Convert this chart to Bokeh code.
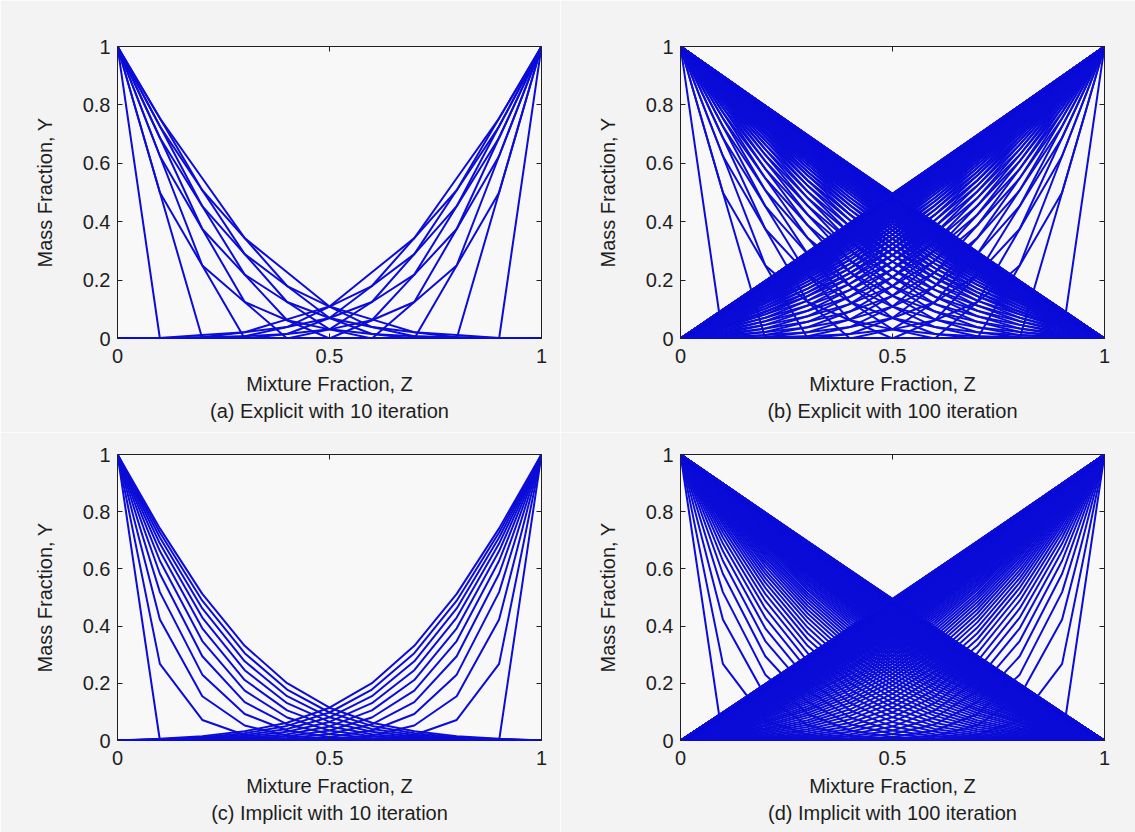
from bokeh.plotting import figure
from bokeh.layouts import gridplot
from bokeh.models import FixedTicker, LinearAxis, Title, Range1d
from bokeh.embed import file_html
from bokeh.resources import INLINE

# ---------------- data ----------------
# grid of the mixture fraction (11 nodes)
z_grid = [0.0, 0.1, 0.2, 0.3, 0.4, 0.5, 0.6, 0.7, 0.8, 0.9, 1.0]
# boundary values of the fuel-side profile (Z=0 and Z=1)
y_at_z0 = 1.0
y_at_z1 = 0.0

# interior values (Z = 0.1 ... 0.9) of the fuel-side profile, one row per iteration
# (the oxidizer-side profile is the same curve seen from Z = 1)
explicit_profiles = [
    [0, 0, 0, 0, 0, 0, 0, 0, 0],
    [0.5, 0, 0, 0, 0, 0, 0, 0, 0],
    [0.5, 0.25, 0, 0, 0, 0, 0, 0, 0],
    [0.625, 0.25, 0.125, 0, 0, 0, 0, 0, 0],
    [0.625, 0.375, 0.125, 0.0625, 0, 0, 0, 0, 0],
    [0.6875, 0.375, 0.2188, 0.0625, 0.0313, 0, 0, 0, 0],
    [0.6875, 0.4531, 0.2188, 0.125, 0.0313, 0.0156, 0, 0, 0],
    [0.7266, 0.4531, 0.2891, 0.125, 0.0703, 0.0156, 0.0078, 0, 0],
    [0.7266, 0.5078, 0.2891, 0.1797, 0.0703, 0.0391, 0.0078, 0.0039, 0],
    [0.7539, 0.5078, 0.3438, 0.1797, 0.1094, 0.0391, 0.0215, 0.0039, 0.002],
    [0.7539, 0.5488, 0.3438, 0.2266, 0.1094, 0.0654, 0.0215, 0.0117, 0.002],
    [0.7744, 0.5488, 0.3877, 0.2266, 0.146, 0.0654, 0.0386, 0.0117, 0.0059],
    [0.7744, 0.5811, 0.3877, 0.2668, 0.146, 0.0923, 0.0386, 0.0222, 0.0059],
    [0.7905, 0.5811, 0.4239, 0.2668, 0.1796, 0.0923, 0.0572, 0.0222, 0.0111],
    [0.7905, 0.6072, 0.4239, 0.3017, 0.1796, 0.1184, 0.0572, 0.0342, 0.0111],
    [0.8036, 0.6072, 0.4545, 0.3017, 0.2101, 0.1184, 0.0763, 0.0342, 0.0171],
    [0.8036, 0.6291, 0.4545, 0.3323, 0.2101, 0.1432, 0.0763, 0.0467, 0.0171],
    [0.8146, 0.6291, 0.4807, 0.3323, 0.2378, 0.1432, 0.095, 0.0467, 0.0234],
    [0.8146, 0.6477, 0.4807, 0.3593, 0.2378, 0.1664, 0.095, 0.0592, 0.0234],
    [0.8239, 0.6477, 0.5035, 0.3593, 0.2629, 0.1664, 0.1128, 0.0592, 0.0296],
    [0.8239, 0.6637, 0.5035, 0.3832, 0.2629, 0.1879, 0.1128, 0.0712, 0.0296],
    [0.8319, 0.6637, 0.5235, 0.3832, 0.2856, 0.1879, 0.1296, 0.0712, 0.0356],
    [0.8319, 0.6777, 0.5235, 0.4046, 0.2856, 0.2076, 0.1296, 0.0826, 0.0356],
    [0.8389, 0.6777, 0.5412, 0.4046, 0.3061, 0.2076, 0.1451, 0.0826, 0.0413],
    [0.8389, 0.6901, 0.5412, 0.4237, 0.3061, 0.2256, 0.1451, 0.0932, 0.0413],
    [0.839, 0.691, 0.541, 0.424, 0.306, 0.224, 0.145, 0.091, 0.041],
    [0.846, 0.691, 0.558, 0.424, 0.324, 0.224, 0.158, 0.091, 0.046],
    [0.846, 0.702, 0.558, 0.441, 0.324, 0.241, 0.158, 0.102, 0.046],
    [0.851, 0.702, 0.571, 0.441, 0.341, 0.241, 0.171, 0.102, 0.051],
    [0.851, 0.711, 0.571, 0.456, 0.341, 0.256, 0.171, 0.111, 0.051],
    [0.856, 0.711, 0.584, 0.456, 0.356, 0.256, 0.184, 0.111, 0.056],
    [0.856, 0.720, 0.584, 0.470, 0.356, 0.270, 0.184, 0.120, 0.056],
    [0.860, 0.720, 0.595, 0.470, 0.370, 0.270, 0.195, 0.120, 0.060],
    [0.860, 0.727, 0.595, 0.482, 0.370, 0.282, 0.195, 0.127, 0.060],
    [0.864, 0.727, 0.605, 0.482, 0.382, 0.282, 0.205, 0.127, 0.064],
    [0.864, 0.734, 0.605, 0.494, 0.382, 0.294, 0.205, 0.134, 0.064],
    [0.867, 0.734, 0.614, 0.494, 0.394, 0.294, 0.214, 0.134, 0.067],
    [0.867, 0.741, 0.614, 0.504, 0.394, 0.304, 0.214, 0.141, 0.067],
    [0.870, 0.741, 0.622, 0.504, 0.404, 0.304, 0.222, 0.141, 0.070],
    [0.870, 0.746, 0.622, 0.513, 0.404, 0.313, 0.222, 0.146, 0.070],
    [0.873, 0.746, 0.630, 0.513, 0.413, 0.313, 0.230, 0.146, 0.073],
    [0.873, 0.751, 0.630, 0.521, 0.413, 0.321, 0.230, 0.151, 0.073],
    [0.876, 0.751, 0.636, 0.521, 0.421, 0.321, 0.236, 0.151, 0.076],
    [0.876, 0.756, 0.636, 0.529, 0.421, 0.329, 0.236, 0.156, 0.076],
    [0.878, 0.756, 0.642, 0.529, 0.429, 0.329, 0.242, 0.156, 0.078],
    [0.878, 0.760, 0.642, 0.536, 0.429, 0.336, 0.242, 0.160, 0.078],
    [0.880, 0.760, 0.648, 0.536, 0.436, 0.336, 0.248, 0.160, 0.080],
    [0.880, 0.764, 0.648, 0.542, 0.436, 0.342, 0.248, 0.164, 0.080],
    [0.882, 0.764, 0.653, 0.542, 0.442, 0.342, 0.253, 0.164, 0.082],
    [0.882, 0.767, 0.653, 0.547, 0.442, 0.347, 0.253, 0.167, 0.082],
    [0.884, 0.767, 0.657, 0.547, 0.447, 0.347, 0.257, 0.167, 0.084],
    [0.884, 0.771, 0.657, 0.552, 0.447, 0.352, 0.257, 0.171, 0.084],
    [0.885, 0.771, 0.661, 0.552, 0.452, 0.352, 0.261, 0.171, 0.085],
    [0.885, 0.773, 0.661, 0.557, 0.452, 0.357, 0.261, 0.173, 0.085],
    [0.887, 0.773, 0.665, 0.557, 0.457, 0.357, 0.265, 0.173, 0.087],
    [0.887, 0.776, 0.665, 0.561, 0.457, 0.361, 0.265, 0.176, 0.087],
    [0.888, 0.776, 0.668, 0.561, 0.461, 0.361, 0.268, 0.176, 0.088],
    [0.888, 0.778, 0.668, 0.565, 0.461, 0.365, 0.268, 0.178, 0.088],
    [0.889, 0.778, 0.671, 0.565, 0.465, 0.365, 0.271, 0.178, 0.089],
    [0.889, 0.780, 0.671, 0.568, 0.465, 0.368, 0.271, 0.180, 0.089],
    [0.890, 0.780, 0.674, 0.568, 0.468, 0.368, 0.274, 0.180, 0.090],
    [0.890, 0.782, 0.674, 0.571, 0.468, 0.371, 0.274, 0.182, 0.090],
    [0.891, 0.782, 0.677, 0.571, 0.471, 0.371, 0.277, 0.182, 0.091],
    [0.891, 0.784, 0.677, 0.574, 0.471, 0.374, 0.277, 0.184, 0.091],
    [0.892, 0.784, 0.679, 0.574, 0.474, 0.374, 0.279, 0.184, 0.092],
    [0.892, 0.785, 0.679, 0.576, 0.474, 0.376, 0.279, 0.185, 0.092],
    [0.893, 0.785, 0.681, 0.576, 0.476, 0.376, 0.281, 0.185, 0.093],
    [0.893, 0.787, 0.681, 0.579, 0.476, 0.379, 0.281, 0.187, 0.093],
    [0.893, 0.787, 0.683, 0.579, 0.479, 0.379, 0.283, 0.187, 0.093],
    [0.893, 0.788, 0.683, 0.581, 0.479, 0.381, 0.283, 0.188, 0.093],
    [0.894, 0.788, 0.684, 0.581, 0.481, 0.381, 0.284, 0.188, 0.094],
    [0.894, 0.789, 0.684, 0.582, 0.481, 0.382, 0.284, 0.189, 0.094],
    [0.895, 0.789, 0.686, 0.582, 0.482, 0.382, 0.286, 0.189, 0.095],
    [0.895, 0.790, 0.686, 0.584, 0.482, 0.384, 0.286, 0.190, 0.095],
    [0.895, 0.790, 0.687, 0.584, 0.484, 0.384, 0.287, 0.190, 0.095],
    [0.895, 0.791, 0.687, 0.586, 0.484, 0.386, 0.287, 0.191, 0.095],
    [0.896, 0.791, 0.688, 0.586, 0.486, 0.386, 0.288, 0.191, 0.096],
    [0.896, 0.792, 0.688, 0.587, 0.486, 0.387, 0.288, 0.192, 0.096],
    [0.896, 0.792, 0.690, 0.587, 0.487, 0.387, 0.290, 0.192, 0.096],
    [0.896, 0.793, 0.690, 0.588, 0.487, 0.388, 0.290, 0.193, 0.096],
    [0.896, 0.793, 0.691, 0.588, 0.488, 0.388, 0.291, 0.193, 0.096],
    [0.896, 0.793, 0.691, 0.589, 0.488, 0.389, 0.291, 0.193, 0.096],
    [0.897, 0.793, 0.691, 0.589, 0.489, 0.389, 0.291, 0.193, 0.097],
    [0.897, 0.794, 0.691, 0.590, 0.489, 0.390, 0.291, 0.194, 0.097],
    [0.897, 0.794, 0.692, 0.590, 0.490, 0.390, 0.292, 0.194, 0.097],
    [0.897, 0.795, 0.692, 0.591, 0.490, 0.391, 0.292, 0.195, 0.097],
    [0.897, 0.795, 0.693, 0.591, 0.491, 0.391, 0.293, 0.195, 0.097],
    [0.897, 0.795, 0.693, 0.592, 0.491, 0.392, 0.293, 0.195, 0.097],
    [0.898, 0.795, 0.694, 0.592, 0.492, 0.392, 0.294, 0.195, 0.098],
    [0.898, 0.796, 0.694, 0.593, 0.492, 0.393, 0.294, 0.196, 0.098],
    [0.898, 0.796, 0.694, 0.593, 0.493, 0.393, 0.294, 0.196, 0.098],
    [0.898, 0.796, 0.694, 0.594, 0.493, 0.394, 0.294, 0.196, 0.098],
    [0.898, 0.796, 0.695, 0.594, 0.494, 0.394, 0.295, 0.196, 0.098],
    [0.898, 0.796, 0.695, 0.594, 0.494, 0.394, 0.295, 0.196, 0.098],
    [0.898, 0.796, 0.695, 0.594, 0.494, 0.394, 0.295, 0.196, 0.098],
    [0.898, 0.797, 0.695, 0.595, 0.494, 0.395, 0.295, 0.197, 0.098],
    [0.898, 0.797, 0.696, 0.595, 0.495, 0.395, 0.296, 0.197, 0.098],
    [0.898, 0.797, 0.696, 0.595, 0.495, 0.395, 0.296, 0.197, 0.098],
    [0.899, 0.797, 0.696, 0.595, 0.495, 0.395, 0.296, 0.197, 0.099],
    [0.899, 0.797, 0.696, 0.596, 0.495, 0.396, 0.296, 0.197, 0.099],
    [0.899, 0.797, 0.697, 0.596, 0.496, 0.396, 0.297, 0.197, 0.099],
]

implicit_profiles = [
    [0, 0, 0, 0, 0, 0, 0, 0, 0],
    [0.2679, 0.0718, 0.0192, 0.0052, 0.0014, 0.0004, 0.0001, 0, 0],
    [0.4227, 0.1547, 0.0526, 0.0171, 0.0054, 0.0017, 0.0005, 0.0001, 0],
    [0.5189, 0.2302, 0.0925, 0.0348, 0.0125, 0.0043, 0.0014, 0.0005, 0.0001],
    [0.5830, 0.2944, 0.1340, 0.0565, 0.0225, 0.0086, 0.0031, 0.0011, 0.0003],
    [0.6285, 0.3478, 0.1741, 0.0805, 0.0350, 0.0145, 0.0057, 0.0022, 0.0007],
    [0.6623, 0.3924, 0.2115, 0.1055, 0.0493, 0.0219, 0.0093, 0.0037, 0.0013],
    [0.6886, 0.4298, 0.2458, 0.1304, 0.0649, 0.0306, 0.0137, 0.0058, 0.0021],
    [0.7097, 0.4616, 0.2770, 0.1548, 0.0812, 0.0404, 0.0191, 0.0085, 0.0032],
    [0.7271, 0.4889, 0.3053, 0.1782, 0.0979, 0.0510, 0.0252, 0.0117, 0.0045],
    [0.7417, 0.5126, 0.3309, 0.2005, 0.1146, 0.0621, 0.0320, 0.0153, 0.0061],
    [0.755, 0.534, 0.354, 0.221, 0.131, 0.074, 0.039, 0.019, 0.008],
    [0.765, 0.552, 0.375, 0.241, 0.147, 0.086, 0.047, 0.024, 0.010],
    [0.775, 0.568, 0.395, 0.260, 0.163, 0.097, 0.055, 0.029, 0.012],
    [0.783, 0.583, 0.413, 0.278, 0.178, 0.109, 0.063, 0.034, 0.014],
    [0.791, 0.596, 0.429, 0.294, 0.193, 0.121, 0.071, 0.039, 0.017],
    [0.797, 0.609, 0.444, 0.310, 0.207, 0.132, 0.080, 0.044, 0.020],
    [0.804, 0.620, 0.458, 0.325, 0.220, 0.143, 0.088, 0.050, 0.022],
    [0.809, 0.630, 0.471, 0.338, 0.233, 0.154, 0.096, 0.055, 0.025],
    [0.815, 0.640, 0.483, 0.351, 0.246, 0.164, 0.105, 0.061, 0.028],
    [0.819, 0.648, 0.495, 0.364, 0.257, 0.175, 0.112, 0.066, 0.030],
    [0.824, 0.656, 0.505, 0.375, 0.269, 0.184, 0.120, 0.071, 0.033],
    [0.828, 0.664, 0.515, 0.386, 0.279, 0.194, 0.128, 0.077, 0.036],
    [0.832, 0.671, 0.525, 0.397, 0.290, 0.203, 0.135, 0.082, 0.038],
    [0.835, 0.678, 0.533, 0.407, 0.299, 0.212, 0.142, 0.087, 0.041],
    [0.839, 0.684, 0.542, 0.416, 0.309, 0.220, 0.149, 0.091, 0.043],
    [0.842, 0.690, 0.549, 0.425, 0.318, 0.229, 0.156, 0.096, 0.046],
    [0.845, 0.695, 0.557, 0.433, 0.326, 0.236, 0.162, 0.100, 0.048],
    [0.847, 0.700, 0.564, 0.441, 0.334, 0.244, 0.168, 0.105, 0.050],
    [0.850, 0.705, 0.570, 0.449, 0.342, 0.251, 0.174, 0.109, 0.052],
    [0.853, 0.710, 0.577, 0.456, 0.349, 0.258, 0.180, 0.113, 0.054],
    [0.855, 0.714, 0.583, 0.463, 0.356, 0.264, 0.185, 0.117, 0.056],
    [0.857, 0.718, 0.588, 0.469, 0.363, 0.271, 0.190, 0.121, 0.058],
    [0.859, 0.722, 0.594, 0.475, 0.370, 0.276, 0.195, 0.124, 0.060],
    [0.861, 0.726, 0.599, 0.481, 0.376, 0.282, 0.200, 0.128, 0.062],
    [0.863, 0.730, 0.603, 0.487, 0.381, 0.288, 0.205, 0.131, 0.064],
    [0.865, 0.733, 0.608, 0.492, 0.387, 0.293, 0.209, 0.134, 0.065],
    [0.866, 0.736, 0.612, 0.497, 0.392, 0.298, 0.213, 0.137, 0.067],
    [0.868, 0.739, 0.617, 0.502, 0.397, 0.302, 0.217, 0.140, 0.068],
    [0.870, 0.742, 0.621, 0.507, 0.402, 0.307, 0.221, 0.142, 0.070],
    [0.871, 0.745, 0.624, 0.511, 0.407, 0.311, 0.224, 0.145, 0.071],
    [0.872, 0.748, 0.628, 0.515, 0.411, 0.315, 0.228, 0.148, 0.072],
    [0.874, 0.750, 0.631, 0.519, 0.415, 0.319, 0.231, 0.150, 0.074],
    [0.875, 0.752, 0.635, 0.523, 0.419, 0.323, 0.235, 0.152, 0.075],
    [0.876, 0.755, 0.638, 0.527, 0.423, 0.327, 0.238, 0.155, 0.076],
    [0.877, 0.757, 0.641, 0.530, 0.426, 0.330, 0.241, 0.157, 0.077],
    [0.878, 0.759, 0.643, 0.533, 0.430, 0.333, 0.243, 0.159, 0.078],
    [0.879, 0.761, 0.646, 0.536, 0.433, 0.336, 0.246, 0.161, 0.079],
    [0.880, 0.763, 0.648, 0.539, 0.436, 0.339, 0.248, 0.163, 0.080],
    [0.881, 0.764, 0.651, 0.542, 0.439, 0.342, 0.251, 0.164, 0.081],
    [0.882, 0.766, 0.653, 0.545, 0.442, 0.345, 0.253, 0.166, 0.082],
    [0.883, 0.768, 0.655, 0.547, 0.445, 0.347, 0.255, 0.168, 0.083],
    [0.884, 0.769, 0.657, 0.550, 0.447, 0.350, 0.257, 0.169, 0.084],
    [0.884, 0.771, 0.659, 0.552, 0.450, 0.352, 0.259, 0.171, 0.084],
    [0.885, 0.772, 0.661, 0.555, 0.452, 0.355, 0.261, 0.172, 0.085],
    [0.886, 0.773, 0.663, 0.557, 0.454, 0.357, 0.263, 0.173, 0.086],
    [0.887, 0.774, 0.665, 0.559, 0.457, 0.359, 0.265, 0.174, 0.087],
    [0.887, 0.776, 0.666, 0.561, 0.459, 0.361, 0.266, 0.176, 0.087],
    [0.888, 0.777, 0.668, 0.562, 0.460, 0.362, 0.268, 0.177, 0.088],
    [0.888, 0.778, 0.670, 0.564, 0.462, 0.364, 0.270, 0.178, 0.088],
    [0.889, 0.779, 0.671, 0.566, 0.464, 0.366, 0.271, 0.179, 0.089],
    [0.889, 0.780, 0.672, 0.567, 0.466, 0.367, 0.272, 0.180, 0.089],
    [0.890, 0.781, 0.674, 0.569, 0.467, 0.369, 0.274, 0.181, 0.090],
    [0.890, 0.782, 0.675, 0.570, 0.469, 0.370, 0.275, 0.182, 0.090],
    [0.891, 0.783, 0.676, 0.572, 0.470, 0.372, 0.276, 0.183, 0.091],
    [0.891, 0.783, 0.677, 0.573, 0.472, 0.373, 0.277, 0.183, 0.091],
    [0.892, 0.784, 0.678, 0.574, 0.473, 0.374, 0.278, 0.184, 0.092],
    [0.892, 0.785, 0.679, 0.576, 0.474, 0.376, 0.279, 0.185, 0.092],
    [0.892, 0.786, 0.680, 0.577, 0.475, 0.377, 0.280, 0.186, 0.092],
    [0.893, 0.786, 0.681, 0.578, 0.477, 0.378, 0.281, 0.186, 0.093],
    [0.893, 0.787, 0.682, 0.579, 0.478, 0.379, 0.282, 0.187, 0.093],
    [0.893, 0.788, 0.683, 0.580, 0.479, 0.380, 0.283, 0.188, 0.093],
    [0.894, 0.788, 0.684, 0.581, 0.480, 0.381, 0.284, 0.188, 0.094],
    [0.894, 0.789, 0.684, 0.582, 0.481, 0.382, 0.284, 0.189, 0.094],
    [0.894, 0.789, 0.685, 0.583, 0.482, 0.383, 0.285, 0.189, 0.094],
    [0.895, 0.790, 0.686, 0.583, 0.482, 0.383, 0.286, 0.190, 0.095],
    [0.895, 0.790, 0.686, 0.584, 0.483, 0.384, 0.286, 0.190, 0.095],
    [0.895, 0.791, 0.687, 0.585, 0.484, 0.385, 0.287, 0.191, 0.095],
    [0.895, 0.791, 0.688, 0.586, 0.485, 0.386, 0.288, 0.191, 0.095],
    [0.896, 0.791, 0.688, 0.586, 0.486, 0.386, 0.288, 0.191, 0.096],
    [0.896, 0.792, 0.689, 0.587, 0.486, 0.387, 0.289, 0.192, 0.096],
    [0.896, 0.792, 0.689, 0.587, 0.487, 0.387, 0.289, 0.192, 0.096],
    [0.896, 0.793, 0.690, 0.588, 0.487, 0.388, 0.290, 0.193, 0.096],
    [0.896, 0.793, 0.690, 0.589, 0.488, 0.389, 0.290, 0.193, 0.096],
    [0.896, 0.793, 0.691, 0.589, 0.489, 0.389, 0.291, 0.193, 0.096],
    [0.897, 0.794, 0.691, 0.590, 0.489, 0.390, 0.291, 0.194, 0.097],
    [0.897, 0.794, 0.692, 0.590, 0.490, 0.390, 0.292, 0.194, 0.097],
    [0.897, 0.794, 0.692, 0.591, 0.490, 0.391, 0.292, 0.194, 0.097],
    [0.897, 0.794, 0.692, 0.591, 0.491, 0.391, 0.292, 0.194, 0.097],
    [0.897, 0.795, 0.693, 0.591, 0.491, 0.391, 0.293, 0.195, 0.097],
    [0.897, 0.795, 0.693, 0.592, 0.491, 0.392, 0.293, 0.195, 0.097],
    [0.897, 0.795, 0.693, 0.592, 0.492, 0.392, 0.293, 0.195, 0.097],
    [0.898, 0.795, 0.694, 0.593, 0.492, 0.393, 0.294, 0.195, 0.098],
    [0.898, 0.796, 0.694, 0.593, 0.493, 0.393, 0.294, 0.196, 0.098],
    [0.898, 0.796, 0.694, 0.593, 0.493, 0.393, 0.294, 0.196, 0.098],
    [0.898, 0.796, 0.695, 0.594, 0.493, 0.394, 0.295, 0.196, 0.098],
    [0.898, 0.796, 0.695, 0.594, 0.494, 0.394, 0.295, 0.196, 0.098],
    [0.898, 0.796, 0.695, 0.594, 0.494, 0.394, 0.295, 0.196, 0.098],
    [0.898, 0.797, 0.695, 0.594, 0.494, 0.394, 0.295, 0.197, 0.098],
    [0.898, 0.797, 0.695, 0.595, 0.494, 0.395, 0.295, 0.197, 0.098],
    [0.898, 0.797, 0.696, 0.595, 0.495, 0.395, 0.296, 0.197, 0.098],
]

# number of iterations shown in each panel
short_run = 10
long_run = 100

# axis ticks and texts
x_tick_values = [0, 0.5, 1]
x_tick_labels = ["0", "0.5", "1"]
y_tick_values = [0, 0.2, 0.4, 0.6, 0.8, 1]
y_tick_labels = ["0", "0.2", "0.4", "0.6", "0.8", "1"]
x_axis_title = "Mixture Fraction, Z"
y_axis_title = "Mass Fraction, Y"
panel_captions = [
    "(a) Explicit with 10 iteration",
    "(b) Explicit with 100 iteration",
    "(c) Implicit with 10 iteration",
    "(d) Implicit with 100 iteration",
]

# ---------------- styling ----------------
FONT = "Liberation Sans"
FS = "20px"
TEXT_COLOR = "#1e1e1e"
LINE_COLOR = "#0c0cd8"
PAGE_BG = "#f3f3f3"
PLOT_BG = "#f8f8f8"


def style_axis(ax, ticks, labels, show):
    ax.ticker = FixedTicker(ticks=ticks)
    ax.major_label_overrides = {t: (l if show else "") for t, l in zip(ticks, labels)}
    ax.major_tick_in = 5
    ax.major_tick_out = 0
    ax.major_tick_line_color = "#202020"
    ax.minor_tick_line_color = None
    ax.axis_line_color = None
    ax.major_label_text_font = FONT
    ax.major_label_text_font_size = FS
    ax.major_label_text_color = TEXT_COLOR


def make_panel(profiles, n_iter, caption, borders, frame_h):
    left_b, right_b, top_b, bottom_b = borders
    p = figure(
        frame_width=424, frame_height=frame_h,
        x_range=Range1d(0, 1), y_range=Range1d(0, 1),
        output_backend="svg", toolbar_location=None,
        min_border_left=left_b, min_border_right=right_b,
        min_border_top=top_b, min_border_bottom=bottom_b,
        background_fill_color=PLOT_BG, border_fill_color=PAGE_BG,
    )
    p.outline_line_color = "#202020"
    p.outline_line_width = 1
    p.grid.visible = False

    xs, ys = [], []
    for row in profiles[: n_iter + 1]:
        fuel = [y_at_z0] + list(row) + [y_at_z1]
        xs.append(z_grid)
        ys.append(fuel)
        xs.append(z_grid)
        ys.append(fuel[::-1])
    p.multi_line(xs, ys, line_color=LINE_COLOR, line_width=2.0)

    style_axis(p.xaxis[0], x_tick_values, x_tick_labels, True)
    style_axis(p.yaxis[0], y_tick_values, y_tick_labels, True)
    p.xaxis[0].major_label_standoff = 10
    p.yaxis[0].major_label_standoff = 7
    p.xaxis[0].axis_label = x_axis_title
    p.yaxis[0].axis_label = y_axis_title
    for ax in (p.xaxis[0], p.yaxis[0]):
        ax.axis_label_text_font = FONT
        ax.axis_label_text_font_size = FS
        ax.axis_label_text_font_style = "normal"
        ax.axis_label_text_color = TEXT_COLOR
    p.xaxis[0].axis_label_standoff = 7
    p.yaxis[0].axis_label_standoff = 24

    top_ax = LinearAxis()
    style_axis(top_ax, x_tick_values, x_tick_labels, False)
    top_ax.major_label_standoff = 0
    p.add_layout(top_ax, "above")
    right_ax = LinearAxis()
    style_axis(right_ax, y_tick_values, y_tick_labels, False)
    right_ax.major_label_standoff = 0
    p.add_layout(right_ax, "right")

    cap = Title(text=caption, align="center", text_font=FONT, text_font_size=FS,
                text_font_style="normal", text_color=TEXT_COLOR, standoff=0)
    p.add_layout(cap, "below")
    return p


# borders: left, right, top, bottom (pixels)
pa = make_panel(explicit_profiles, short_run, panel_captions[0], (117, 19, 46, 94), 292)
pb = make_panel(explicit_profiles, long_run, panel_captions[1], (120, 31, 46, 94), 292)
pc = make_panel(implicit_profiles, short_run, panel_captions[2], (117, 19, 22, 92), 286)
pd = make_panel(implicit_profiles, long_run, panel_captions[3], (120, 31, 22, 92), 286)

layout = gridplot([[pa, pb], [pc, pd]], toolbar_location=None)

open("out.html", "w").write(file_html(layout, INLINE))
